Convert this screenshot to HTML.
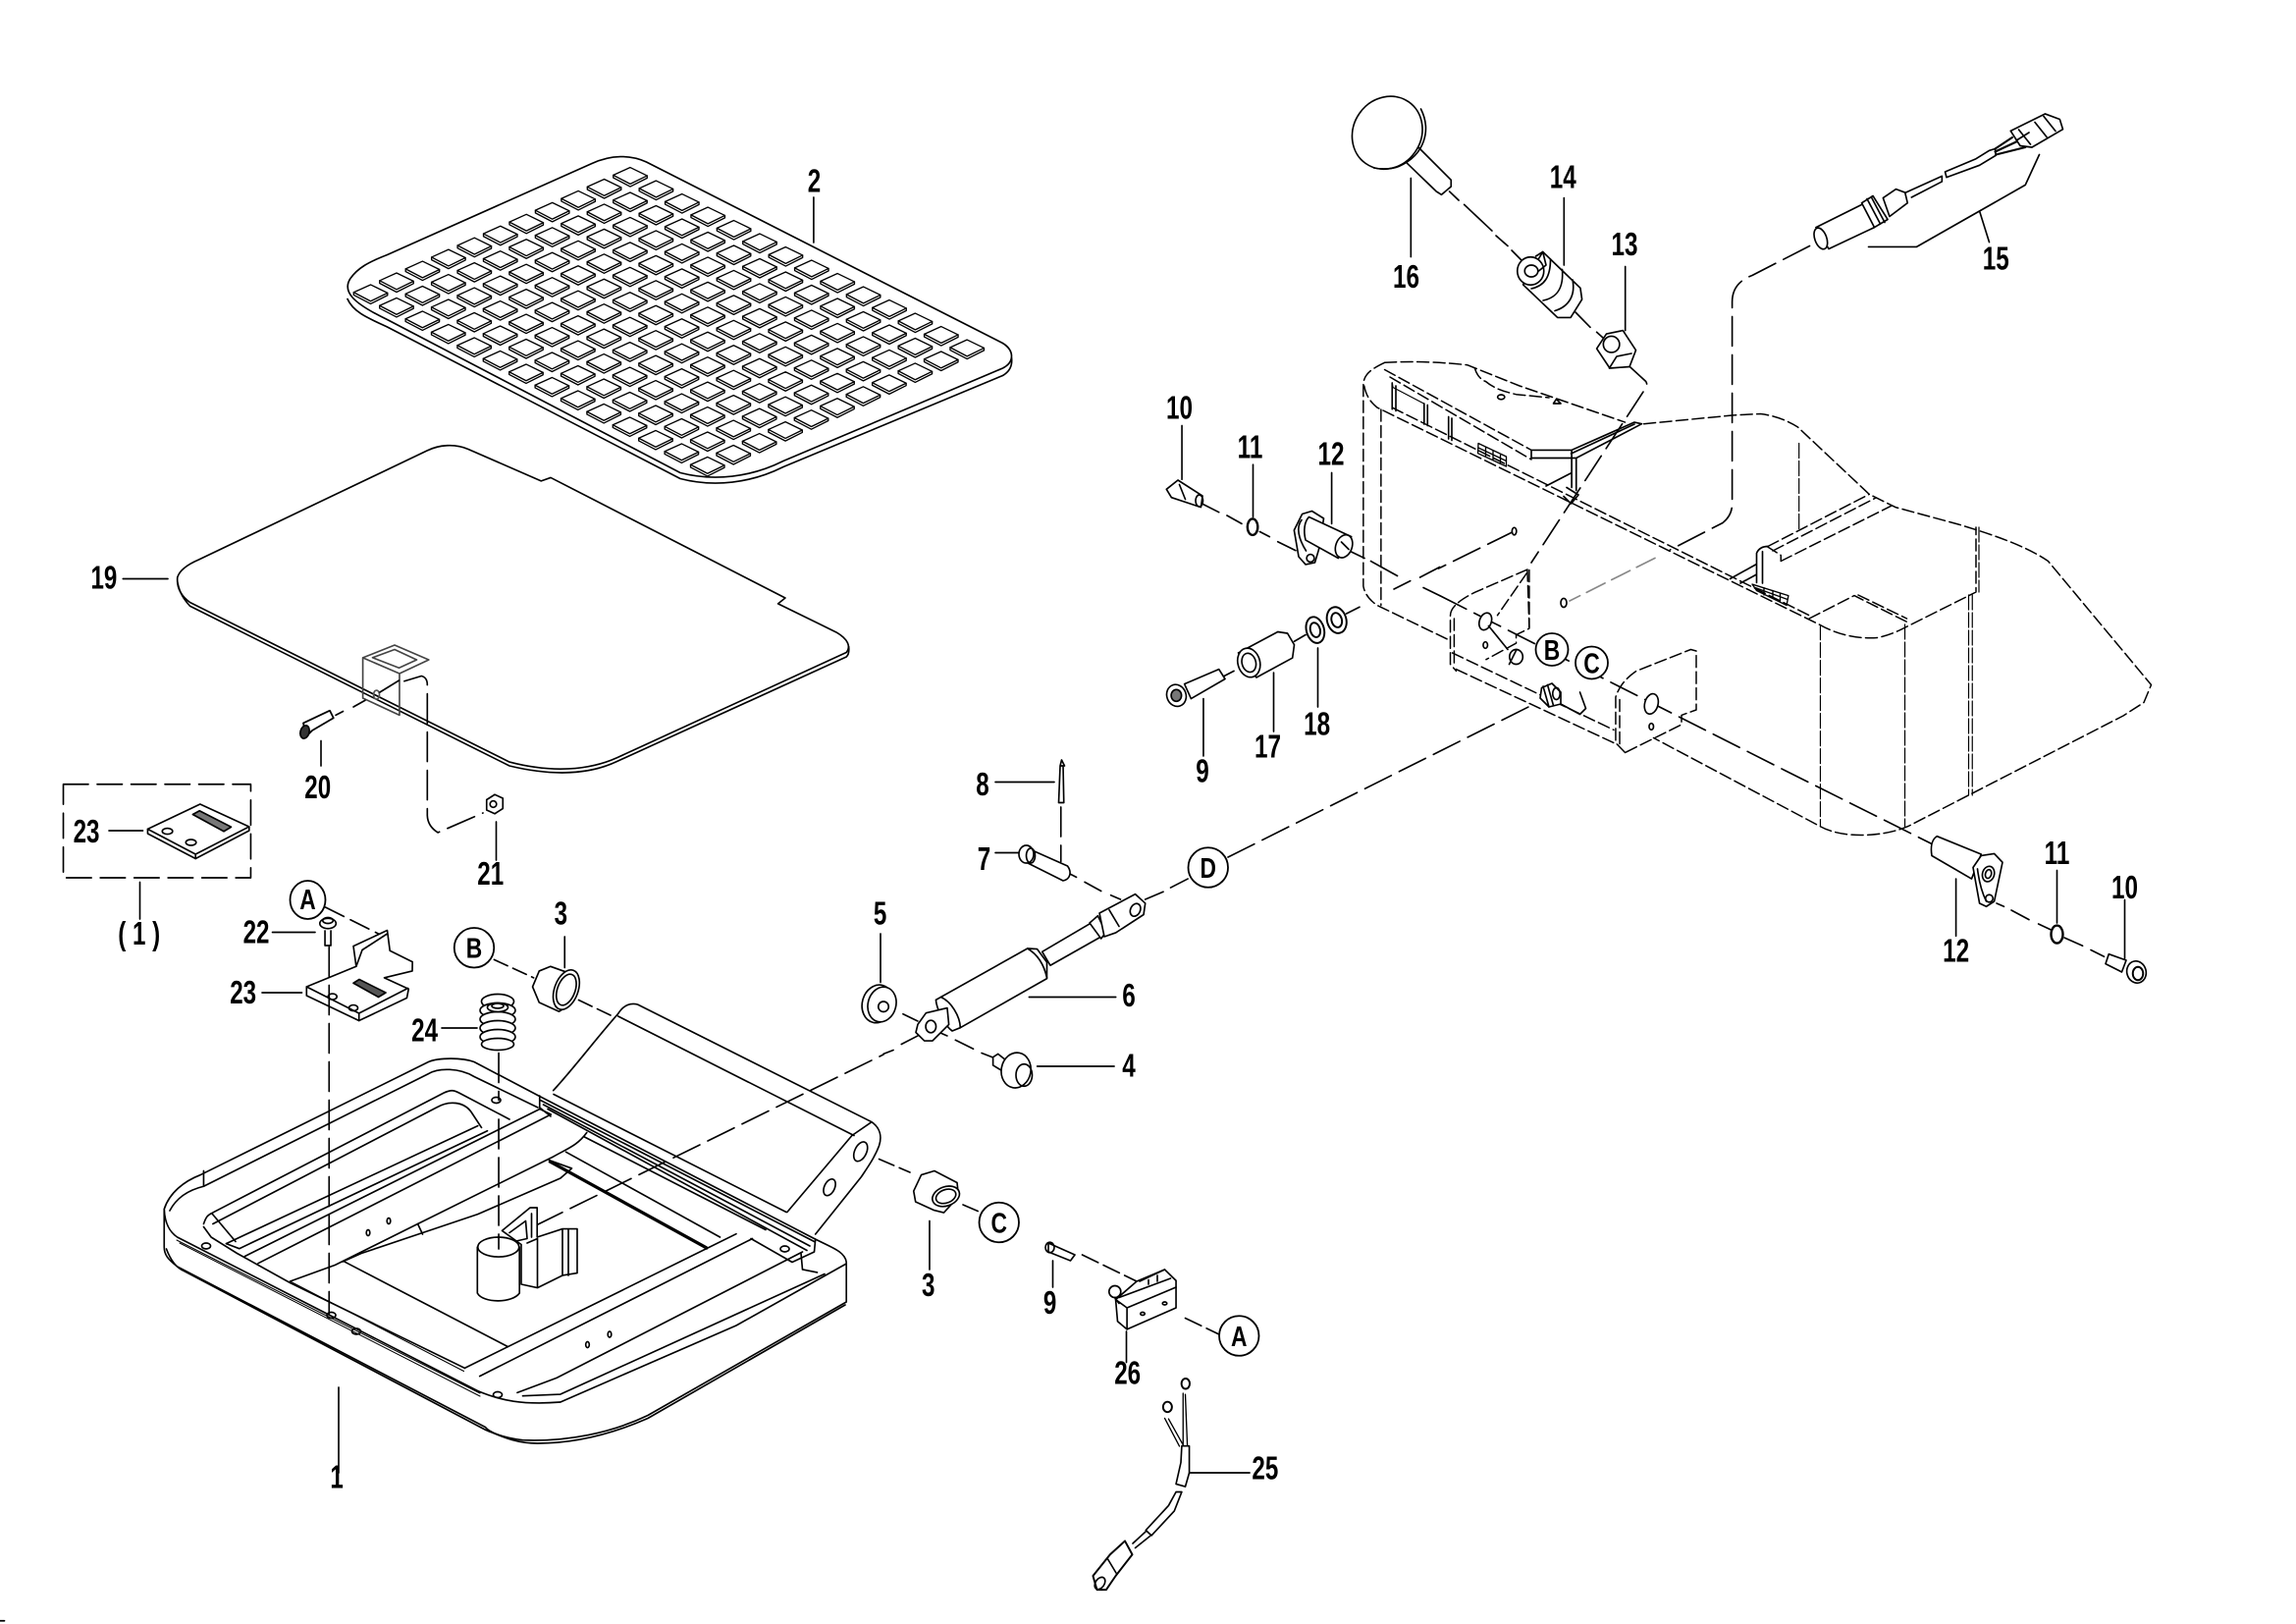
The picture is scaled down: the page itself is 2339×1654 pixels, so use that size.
<!DOCTYPE html>
<html><head><meta charset="utf-8"><style>
html,body{margin:0;padding:0;background:#fff}
svg{display:block}
text{font-family:"Liberation Sans",sans-serif;font-size:22.5px;font-weight:bold;text-anchor:middle;fill:#000;stroke:none}
.c text{font-size:19px}
.d{stroke-dasharray:20 6}
.s{stroke-dasharray:8 3;stroke-width:1}
.f{stroke-dasharray:10 2;stroke-width:.8}
.w{fill:#fff}
</style></head><body>
<svg width="2339" height="1654" viewBox="0 0 1559.33 1102.67" fill="none" stroke="#000" stroke-width="1.1" stroke-linejoin="round" stroke-linecap="round">
<defs>
<g id="t" stroke-width=".9"><path class="w" d="M0-5.6 11.5 0 11.5 1.6 0 7.4-11.5 1.4-11.5-.4Z"/><path d="M-11.5-.4 0 5.6 11.5 0"/></g>
<g id="r"><use href="#t"/><use href="#t" x="17.6" y="9"/><use href="#t" x="35.2" y="18"/><use href="#t" x="52.8" y="27"/><use href="#t" x="70.4" y="36"/><use href="#t" x="88" y="45"/><use href="#t" x="105.6" y="54"/><use href="#t" x="123.2" y="63"/><use href="#t" x="140.8" y="72"/><use href="#t" x="158.4" y="81"/><use href="#t" x="176" y="90"/><use href="#t" x="193.6" y="99"/><use href="#t" x="211.2" y="108"/><use href="#t" x="228.8" y="117"/></g>
</defs>

<!-- mat 2 -->
<path d="M402 111C415 105 428 105 439 110L681 233C689 238 689 246 681 250L532 313C510 324 485 327 462 321L263 217C240 206 232 198 238 189 243 182 250 178 263 173Z"/>
<path d="M236 203C240 212 250 216 263 222L462 325C485 331 510 328 532 317L681 255Q688 251 687 243"/>
<g transform="translate(428 119.3)"><use href="#r"/><use href="#r" x="-17.63" y="7.96"/><use href="#r" x="-35.26" y="15.92"/><use href="#r" x="-52.89" y="23.88"/><use href="#r" x="-70.52" y="31.84"/><use href="#r" x="-88.15" y="39.8"/><use href="#r" x="-105.78" y="47.76"/><use href="#r" x="-123.41" y="55.72"/><use href="#r" x="-141.04" y="63.68"/><use href="#r" x="-158.67" y="71.64"/><use href="#r" x="-176.3" y="79.6"/></g>
<path d="M552.6 134V164.7M83.5 393H114"/>

<!-- sheet 19 -->
<path d="M120.5 392C122 387 128 383 135 380L290 306C298 302 309 301 318 305L367.5 326.6 374 324.3 533.3 406 528.4 409.9 568 429.3C576 434 578 439 574.8 443L419 514.5C400 523 375 525 346 517.4L129 409C122 404 120 398 120.5 392Z"/>
<path d="M120.5 395C122 403 125 407 129 411.5L346 520C375 527 400 526 419 517L574.8 446Q577 444 576.4 439"/>
<path stroke="#444" d="M246.4 446.6 268 438 291.2 448 271.3 457.3V485.6L246.4 474ZM246.4 446.6 271.3 457.3M253 446.5 268 441 283 448 271 453.5Z"/>
<ellipse cx="255.7" cy="471.7" rx="2" ry="3" stroke="#555"/>
<path d="M258 470 271 462"/>
<path class="d" d="M274.6 462.5 286.2 459Q290.2 460 290.2 465V553.7Q290.5 561 297.4 565.3L328 552"/>
<path d="M228 485.6 233 483M240 480 248 475.5"/>
<path class="w" stroke-width="1.2" d="M206 491 224 482.5 226.5 487.5 212 496 208 500Z"/>
<ellipse cx="207" cy="497" rx="3" ry="4.5" fill="#333" transform="rotate(15 207 497)"/>
<path d="M218 503V520"/>
<path class="w" d="M330.5 543 336 539.5 341.5 542 341.5 549 336 552.5 330.5 550Z"/><circle cx="335" cy="546" r="2.2"/>
<path d="M337 558V584"/>

<!-- box (1) -->
<rect x="43" y="532.5" width="127.3" height="63.5" stroke-dasharray="17 6"/>
<path class="w" d="M100.3 562.9 135.9 546 169.2 561.3 169.2 564 132.8 583 100.3 566Z"/><path d="M100.3 562.9 132.8 580 169.2 561.3M132.8 580V583"/>
<ellipse cx="113.7" cy="564.4" rx="3.5" ry="2"/><ellipse cx="129.7" cy="572" rx="3.5" ry="2"/>
<path d="M130.9 553 135.5 550.5 157 561.5 152 564.5Z" fill="#777"/>
<path d="M74 564H97M95 599V624"/>

<!-- bracket 23/22 + A line -->
<path d="M221 616 259 635" stroke-dasharray="14 5"/>
<path class="w" d="M208.2 670 241.9 656.2 240 642.4 263 631.7 264.8 645.5 280.1 653.1 280 659.3 261 663.9 277.5 671.5 276.3 677.6 243.8 693 208.2 676Z"/>
<path d="M208.2 670 243.8 688 277 671M243.8 688V693M241.9 656.2 246 645 263 634"/>
<ellipse cx="225.8" cy="676.7" rx="3" ry="2"/><ellipse cx="240" cy="684.4" rx="3" ry="2"/>
<path d="M240 667.5 244 665 262 674 257 677Z" fill="#555"/>
<path d="M220.7 632 220.7 642H224.7V632"/><ellipse cx="222.7" cy="627" rx="5.5" ry="3.5" class="w"/><ellipse cx="222.7" cy="625" rx="3.5" ry="2"/>
<path d="M185 633H214M178 674H205M300 698H324"/>

<!-- seat frame 1 -->
<path class="w" stroke-width="1.1" d="M111.5 821C115 810 125 802 136 797.8L291 721C298 718 314 718 322 721L366.6 744.4 553.8 841.4C565 847 574 850 574.8 857V884L440 961C415 973 385 979 355 977.8 340 976 332 972 329.6 969L120.4 860C114 855 111.5 852 111.5 846.7Z"/>
<path d="M111.5 821C112 832 116 837 120.4 840L324.5 944.4C340 951 355 954 380.6 952L500 900 574.8 858"/>
<path d="M113 848C116 856 120 861 125 863L330 971C340 975 350 980 365 980 390 980 415 974 440 963L574 886"/>
<path d="M115.3 822C120 813 128 808 138.3 805.5L291.3 728.9C298 725 312 725 322 731L365.3 752"/>
<path d="M138.3 805.5V795"/>
<path d="M138.3 831C140 826 141 825 144.6 823.3L301.5 742C306 740 308 740 311.7 742L346 760M144.6 831 296.4 752C305 747 315 748 320 755L327 765.6M138.3 833 143.4 840 161 851 197 871 315.6 928.9"/>
<path d="M153.6 844.4 324.5 764.4 M162.5 847.8 331 767.8M166.3 853 366.6 753 M175.3 857.8 374.2 756.7 366.6 753M144 824 160 843M153.6 844.4 162.5 847.8"/>
<path d="M197 870 227.6 858.9 283.7 831 375.5 785.5C385 780 392 778 398.5 769"/>
<path d="M232.7 856.7 245.4 851 291.3 835.6 324.5 824.4 380.6 800 388.3 793.3 373 787.8M283.7 831 287 838"/>
<path d="M234 856.7 345 914.4M315.6 928.9 500 837.8 M325.8 934.4 511 841M373 787.8 480 846.7M384.4 782.2 489 840M397 772 520 835M375 790 478 846M373 789 480 848"/>
<path d="M351.3 945.6 378 935.6 545 850M355 947.8 380.6 946.7 560 865M544 851 545 862 555 864"/>
<path d="M366.5 744V752L374 758M367 747 553 843M369 750 550 846M372 753 548 849M553.8 841.4 553 850 538 857 510 841"/>
<path d="M197 870 315 931M120 842 326 946M122 844 326 948" stroke-width=".7"/>
<ellipse cx="140" cy="846" rx="3" ry="2"/><ellipse cx="225" cy="893" rx="3" ry="2"/><ellipse cx="242" cy="904" rx="3" ry="2"/><ellipse cx="338" cy="947" rx="3" ry="2"/>
<ellipse cx="533" cy="848" rx="3" ry="2"/><ellipse cx="337" cy="747" rx="3" ry="2"/>
<ellipse cx="250" cy="837" rx="1.2" ry="2"/><ellipse cx="264" cy="829" rx="1.2" ry="2"/><ellipse cx="399" cy="913" rx="1.2" ry="2"/><ellipse cx="414" cy="906" rx="1.2" ry="2"/>

<!-- hinge panel -->
<path d="M375.8 740.4C390 725 405 705 419.8 688.3Q425 680 433 682L592 761.8C598 766 599 772 597 778 594 786 589 793 585 799L553.8 838M534.6 823 578.6 771 592 761.8"/>
<path d="M419.8 690 580 771M376 743 534 823"/>
<ellipse cx="584.4" cy="781.7" rx="4" ry="7" transform="rotate(25 584 782)"/><ellipse cx="563.4" cy="806" rx="3.5" ry="6" transform="rotate(25 563 806)"/>

<!-- clip & cylinder -->
<path d="M364 832 600 716" class="d"/>
<path class="w" d="M341 835.6 360 820 364.8 820V840L382 834.4H392V864.4L382 866 365 874.4 354 872V845Z"/>
<path d="M346 837 357 829 358 841 349 843M361 824V840M358 844 365 841V874M382 835V866M386 835V866"/>
<path class="w" d="M324.2 846.7V878C328 885 348 885 352.8 878V846.7Z"/><ellipse cx="338.5" cy="846.7" rx="14" ry="6.7" class="w"/>

<!-- dashed to frame -->
<path class="d" d="M223.5 643V893"/>
<path class="d" d="M338.7 715V747"/><path class="d" d="M338.7 760V848"/>

<!-- spring 24 -->
<g class="w"><ellipse cx="338" cy="680" rx="11" ry="5"/><ellipse cx="338" cy="686" rx="12" ry="5"/><ellipse cx="338" cy="692" rx="12" ry="5"/><ellipse cx="338" cy="698" rx="12" ry="5"/><ellipse cx="338" cy="704" rx="12" ry="5"/><ellipse cx="338" cy="709" rx="11" ry="4"/></g>
<ellipse cx="338" cy="684" rx="7" ry="3" fill="#fff"/><ellipse cx="338" cy="683" rx="4" ry="1.6"/>

<!-- B, 3 upper -->
<path d="M335.6 651.6 362.4 663.9M393 679 416 690" stroke-dasharray="10 4"/>
<path class="w" d="M361.7 670 366.2 659.3 373.9 656.2 391 662.3 393 670 387.3 682 379.7 686.8 366.2 680.7Z"/>
<ellipse cx="384.6" cy="672" rx="8" ry="14" class="w" transform="rotate(20 384.6 672)"/><ellipse cx="384.6" cy="672" rx="6" ry="11" transform="rotate(20 384.6 672)"/>
<path d="M383.5 636V657"/>

<!-- gas spring 6 -->
<path d="M600 715.6 606.7 713M612.2 709 623.3 703.3M613.3 688.5 623.3 693.3M633.3 699 643.3 703.3M648.9 706.2 661 712.2M666.7 715 674.4 718M724.4 592.2 731 595.6M736.7 598.9 747.8 605M754.4 607.8 761 610.7M777.8 610.7 790 605.5M795 602.7 806.7 596.7"/>
<path class="d" d="M834 582 1040 479"/>
<path class="d" d="M720.5 548V585"/>
<path class="w" d="M635.6 678.9 697.8 644 704.4 644.4 711 653.3V664.4L652.2 697.8 646.7 700C642 697 636 685 635.6 678.9Z"/>
<path d="M697.8 644Q708 650 711 664M639 677C646 680 652 690 652.2 697.8"/>
<path class="w" d="M707.8 646.2 741 626.7 747.8 636 713.3 655.5Z"/>
<path class="w" d="M740 626.7 745.6 621.8 751 633.3 747.8 637.3Z"/>
<path class="w" d="M746.7 620 771 607.1 777.8 613.3 776.7 621 757.8 633.3 750 636Z"/>
<path d="M753.3 617.8 760 629"/>
<ellipse cx="771" cy="617.8" rx="3.3" ry="4.5" transform="rotate(25 771 618)"/>
<path class="w" d="M623.3 695.6 628.9 687.8 643.3 684.4 644.4 695.6 633.3 706.7H627.8L622 701Z"/>
<ellipse cx="632.2" cy="697" rx="3.5" ry="4.2"/>
<path class="w" d="M674.4 717.8 677.8 715.6 683.3 720 680 726.7 674.4 723.3Z"/>
<ellipse cx="690" cy="726.7" rx="10" ry="12" class="w" transform="rotate(10 690 727)"/><ellipse cx="695.5" cy="730" rx="5.5" ry="7.5"/>
<path d="M676 579H697M676 531H716M698.9 677H757.8M704.4 724H756.7"/>

<!-- 5, 7, 8 -->
<ellipse cx="596" cy="681.6" rx="10.5" ry="13" class="w" transform="rotate(15 596 682)"/><ellipse cx="599" cy="682" rx="9.5" ry="12" class="w" transform="rotate(15 599 682)"/><circle cx="600" cy="683.5" r="3.5"/>
<path d="M598 634V667"/>
<path class="w" d="M698 576 725 588C728 592 727 597 722 598L696 585Z"/>
<ellipse cx="697" cy="580" rx="5" ry="6" class="w"/><ellipse cx="700" cy="581" rx="3" ry="5"/>
<path d="M720 520 719 545H722.5L722 520ZM720 520 721 516 723 520"/>

<!-- C, bushing 3 lower -->
<path d="M597 787 618 796M654 818 668 824" stroke-dasharray="11 4"/>
<path class="w" d="M620.5 808.7 625.7 797.7 634.6 795 650 803 651 812.4 641 823.4 634 821.6 621.8 816Z"/>
<ellipse cx="642.3" cy="812.4" rx="9.5" ry="6.5" class="w" transform="rotate(-20 642 812)"/><ellipse cx="642.3" cy="812.4" rx="7" ry="4.5" transform="rotate(-20 642 812)"/>
<path d="M631.3 829V862"/>

<!-- 9 lower + switch 26 -->
<path d="M712 844 730 852 727 856 712 850Z" class="w"/><ellipse cx="713" cy="847" rx="3" ry="3.5"/>
<path d="M735 852 772 870M805 895 830 907" stroke-dasharray="12 4"/>
<path d="M715 856V874"/>
<path class="w" d="M757.7 882.4 772 870 791 862 798.7 869.5V888L765.4 902.6 759 897.2Z"/>
<path d="M757.7 882.4 765.4 888V902.6M765.4 888 798.7 874M760 881 795 868M774 870 791 862M780 869V872M786 866V870"/>
<circle cx="757.2" cy="877" r="4" class="w"/><path d="M757 881 760 885"/>
<ellipse cx="776" cy="892" rx="1.5" ry="1"/><ellipse cx="791" cy="885" rx="1.5" ry="1"/>
<path d="M765 904V925"/>

<!-- cable 25 -->
<path d="M805 946.8 806.4 981.8M793.6 963.4 803.9 981.8M803.5 946V982M791 963 801 982" stroke-width=".9"/>
<ellipse cx="805.2" cy="939.5" rx="2.8" ry="3.5" stroke-width="1.3"/><ellipse cx="792.9" cy="955.3" rx="3" ry="3.5" stroke-width="1.3"/>
<path class="w" d="M802.6 981.8H807.7V1000L805 1009.4 798.7 1007.6 802 993Z"/>
<path class="w" d="M798.7 1013H802.6L797.5 1026 782 1042.6 778.2 1039 793.6 1022.3Z"/>
<path d="M778 1040 769.3 1048M781 1043 771 1051"/>
<path class="w" stroke-width="1.3" d="M764 1046.3 769 1055.5 757.7 1070 751.3 1079.4H745L742.3 1070 753.9 1055.5Z"/>
<ellipse cx="747" cy="1075" rx="3" ry="4.5" transform="rotate(35 747 1075)"/><path d="M752 1058 758 1068"/>
<path d="M807.7 1000H848.7"/>

<!-- seat body dashed -->
<g class="s">
<path d="M940.4 246.2C928 252 926 256 925.9 262V398C927 404 931 408 935.3 411L983.8 434.4"/>
<path d="M937.9 278V411M940.4 246.2C960 245 980 246 996.5 247.8L1032 262 1103.7 286.7M1116.4 287.8 1176.4 282 1195.5 281C1205 282 1215 286 1221 290L1269.5 335.6 1287.3 344.4 1330 356C1350 362 1375 370 1391 381L1461 465 1456 477 1442 486 1296 561C1280 568 1252 570 1236 561L1123 501"/>
<path d="M940.4 251 1040 305.6M944 256 1040 312M926.5 262C928 270 932 274 935.3 276.7L1236.3 424.4C1248 431 1262 434 1275 433 1285 431 1292 427 1296 425L1342 402V358M945.5 276.7 1228.7 417.8"/>
<path d="M1001.6 250C1003 255 1006 258 1009 259 1015 264 1022 266 1029.7 267.8L1052 270"/>
<path d="M1228.7 420 1259.3 404.4 1295 422.2"/><path d="M1262 404 1295 420"/>
<path d="M1200.6 371 1269.5 335.6M1209.5 381 1284.8 343.3M1200 371 1209.5 377V381"/>
<path d="M1204 374 1274 338"/>
<path d="M1037.3 386.7 1001.6 402.2C990 408 985 413 985 418V451L989 455.6M1037.3 386.7 1038.6 426.7 1029.7 431V436.7L1009.3 447.8M987.6 420V450"/>
<path d="M986.3 443.3 1096 495.6M988.9 454.4 1098.6 505.6"/>
<path d="M1103.7 511 1097.3 504.4V473.3C1100 465 1105 460 1111.3 455.6L1148.3 441 1152 442V482L1142 485.6V492L1103.7 511M1100 505V474"/>
</g>
<path d="M1040 305.6H1067.4L1110 286.7 1115 287.8 1070.5 311H1040V305.6M1067.4 305.6V331M1070.5 311V333M1064 331 1072 336 1067 342 1062 337M1050 330 1067.4 321M1067 308 1110 288M1193 395.6V375.6Q1195 371 1200.6 371M1197 374.5V396M1175 393 1193 383M1182 396 1193 390"/>
<path d="M1004 301 1023 310V316.7L1003.7 307.8ZM1004 304 1023 313M1009 304V310M1014 306V312M1019 309V315" stroke-width=".9"/>
<path d="M1190 396.7 1214.6 404.4 1213.4 411 1193 401ZM1192 399 1214 407M1198 399V404M1204 401V406M1209 403V408" stroke-width=".9"/>
<path d="M945.5 260V277.8M948 262V279M967.2 274V288M969.5 275V289M983.8 283V298M986 284V299"/>
<path d="M967 274 946 263 945.5 260" stroke-width=".8"/>
<ellipse cx="1019.5" cy="269.6" rx="2.4" ry="1.6"/><path d="M1057 271 1060 274 1055 274Z"/>
<path class="f" d="M1236.3 424.4V561M1293.7 424V561M1337 404V540M1339.5 404V540M1221.8 301V359M1344 358V402"/>

<!-- center lines -->
<path d="M816.7 342.2 827.8 347.8M833.3 350 843.3 355.6M855.6 361 862.2 364.4M867.8 367.8 880 373.8M916 373.8 926.7 379M931 381 949 391M966.7 399 977.8 404.4"/>
<path class="d" d="M978 404.5 1212 523 1312 573"/>
<path d="M831.6 458.9 838 455.6M879 435.5 886.7 431M914.4 416.7 923.3 412.2M946.7 400 957.8 394.4M964.4 392 977.8 385"/>
<path class="d" d="M1028.4 360.7 977 386"/>
<path class="d" d="M1104.4 246.7 1117.8 259Q1119 261 1118 263L1040 382"/>
<path d="M1037 389 1017 417.8 M1038.6 387V426" class="s"/>
<path class="d" d="M1229 167 1190 187Q1176.4 192 1176.4 205V342Q1176.4 350 1170 355L1134.3 373.3"/>
<path stroke="#888" stroke-dasharray="14 5" d="M1124 378.9 1066 408"/>
<path d="M984.4 130 990.7 136M994.4 138.9 1013.3 156.7M1016 160 1024 167M1026.7 170 1034.4 177.8M1070 212 1080 222.2M1084.4 225.5 1095.5 235.5"/>
<path d="M1356 613.3 1361 615.5M1366 618 1378 624.4M1384.4 627.3 1393.3 631.5M1402 636.7 1414.4 642.2M1420 645 1429 649.5"/>

<!-- holes in body -->
<g class="w">
<ellipse cx="1008.8" cy="422" rx="4" ry="6" transform="rotate(20 1009 422)"/><ellipse cx="1029.7" cy="446" rx="4.5" ry="5"/><ellipse cx="1121.5" cy="477.8" rx="4.5" ry="7" transform="rotate(15 1121 478)"/>
<ellipse cx="1008.8" cy="438" rx="1.5" ry="2.2"/><ellipse cx="1121.5" cy="493.3" rx="1.5" ry="2.2"/><ellipse cx="1028.4" cy="360.7" rx="1.5" ry="2.5"/><ellipse cx="1062" cy="409.3" rx="2" ry="3"/>
</g>
<path d="M1011 425 1024 441M1030 441 1025 451"/>
<path class="w" d="M1047 467 1054 464 1060 470 1060 478 1052 480 1046 474Z"/>
<path d="M1048 466 1052 480M1051 465 1055 479" /><ellipse cx="1057" cy="471" rx="2.5" ry="4"/>
<path d="M1060 478 1073 485 1077 481 1073 470"/>

<!-- knob 16 -->
<path class="w" d="M963.3 100 985.5 122.2V126.7L979 132.2 975.5 130 954 109.3Z"/>
<ellipse cx="942.2" cy="90" rx="23" ry="25.5" class="w" transform="rotate(35 942 90)"/>
<path d="M965 74C972 88 968 105 950 113 945 115 938 115 933 114"/>
<path d="M958.2 121V174.4"/>

<!-- spring 14 -->
<path class="w" d="M1047.8 171 1073.3 195.6 1074.4 203.3 1066.7 215.6H1057.8L1034.4 193.3Z"/>
<path d="M1053 176C1053 188 1049 194 1040 196M1061 183C1062 195 1058 202 1048 204M1068 190C1070 200 1066 208 1056 211"/>
<ellipse cx="1039.5" cy="184" rx="9" ry="9.5" class="w"/><ellipse cx="1040" cy="184" rx="4.5" ry="4"/><path d="M1043 174 1047.8 171 1050 180 1045 184"/>
<path d="M1062.2 134.4V180"/>

<!-- nut 13 -->
<path class="w" d="M1084.4 236.7 1091 226.7 1102.2 224.4 1111 237.8 1106.7 249 1093.3 250Z"/>
<path d="M1093 250 1098 242 1108 240"/><circle cx="1094.4" cy="233.8" r="5.5"/>
<path d="M1103.8 181V224.4"/>

<!-- sensor 15 -->
<path class="w" d="M1233.3 154.4 1266.6 137.8 1273 154.4 1242 169Z"/><ellipse cx="1236.6" cy="161.8" rx="4" ry="7.5" class="w" transform="rotate(-20 1237 162)"/>
<path class="w" d="M1264.4 137.8 1272 133 1282 149 1273 154.4Z"/><path d="M1268 135 1277 152M1271 134 1280 151"/>
<path class="w" d="M1278.9 134.4 1287.7 128.4 1293.8 130.7 1295.5 137.8 1283.3 147Z"/>
<path d="M1294.4 130.7 1318.9 119.6 1318.9 123.3 1298.2 134M1321 116.7 1342 107.8 1351 102.2 1355 101M1322 120.4 1344.4 112.2 1355.5 105.5 1355 101M1321 116.7 1322 120.4"/>
<path d="M1355 101 1366.6 93.3M1355 103 1370 96M1355.5 105 1375.5 100" stroke-width="1.4"/>
<path class="w" d="M1365.5 88.9 1388.9 77.3 1398.9 81 1401 87.8 1380 100 1372 99Z"/>
<path d="M1371 88 1379 98M1382 83 1390 93M1388 79 1396 89M1370 95 1378 90"/>
<path d="M1269 167.6H1301.7L1375.5 125.6 1385 105M1344.4 143.3 1351 164.4"/>

<!-- left hardware -->
<path class="w" d="M792.2 332.2 800 326 816.7 336.7 815.6 344.4 795.6 337.8Z"/><path d="M801 329 805 339"/><ellipse cx="814.5" cy="340" rx="2.5" ry="4"/>
<path d="M802.7 289V325.5"/>
<ellipse cx="850.7" cy="357.8" rx="3.5" ry="5.5" stroke-width="1.6"/><path d="M851 315.5V351"/>
<path class="w" d="M878.9 360 884.4 349 891 347 899 352 895.6 373.3 893 382 886.7 383.3 882 378Z"/>
<path d="M884 353C880 358 882 366 887 374"/>
<path class="w" d="M889 351 917.8 364.4 908.9 379 886.7 366.7C885 360 886 354 889 351Z"/>
<ellipse cx="912.7" cy="371" rx="5.5" ry="8" class="w" transform="rotate(20 913 371)"/><path d="M911 368 916 373"/>
<circle cx="890" cy="379" r="2.6"/>
<path d="M904.4 321V355.6"/>

<path class="w" d="M804.4 464.4 827.8 454.4 832 461 808.9 474.4Z"/><ellipse cx="798.9" cy="472.2" rx="6.5" ry="7.5" class="w" transform="rotate(-20 799 472)"/><ellipse cx="798.9" cy="472.2" rx="3.5" ry="4" fill="#777"/>
<path d="M817.3 474.4V513.3"/>
<path class="w" d="M841 443.3 867.8 429 874.4 430 879 437.8 877.8 446.7 853.3 460Z"/><ellipse cx="848.2" cy="450" rx="7.5" ry="10" class="w" transform="rotate(-15 848 450)"/><ellipse cx="848.2" cy="450" rx="4.7" ry="6.5" transform="rotate(-15 848 450)"/>
<path d="M865 456.7V496.7"/>
<ellipse cx="893.3" cy="427.8" rx="6" ry="9" class="w" transform="rotate(-15 893 428)" stroke-width="1.3"/><ellipse cx="893.3" cy="427.8" rx="3.3" ry="5" transform="rotate(-15 893 428)" stroke-width="1.3"/>
<ellipse cx="907.8" cy="421" rx="6.5" ry="9" class="w" transform="rotate(-15 908 421)" stroke-width="1.3"/><ellipse cx="907.8" cy="421" rx="3.5" ry="5" transform="rotate(-15 908 421)" stroke-width="1.3"/>
<path d="M895 440V480"/>

<!-- right hardware -->
<path class="w" d="M1315.5 567.8 1345.5 580 1339 596.7 1312 581C1311 575 1312 570 1315.5 567.8Z"/>
<path class="w" d="M1340 589 1345.5 581 1354.4 579.6 1360 585.5 1354.4 612 1349 615.5 1344.4 613.3Z"/>
<path d="M1343 590C1344 598 1346 606 1349 612"/>
<ellipse cx="1350.5" cy="593.3" rx="4" ry="5.3" transform="rotate(15 1350 593)"/><ellipse cx="1350.5" cy="593.3" rx="2" ry="3" transform="rotate(15 1350 593)"/><circle cx="1351" cy="610" r="2.5"/>
<path d="M1328.4 596.7V635.5"/>
<ellipse cx="1397" cy="634.4" rx="4" ry="6" stroke-width="1.6"/><path d="M1397 591V626.7"/>
<path class="w" d="M1432.2 647.8 1444 652 1441 660 1430 654.4Z"/>
<ellipse cx="1451" cy="660" rx="6.5" ry="7.5" class="w" transform="rotate(-15 1451 660)"/><ellipse cx="1452" cy="661" rx="3.5" ry="4.5" stroke-width="1.3"/>
<path d="M1443 611V651"/>

<path d="M230 942V1000"/>
<path d="M0 1100.5H3"/>

<!-- circled letters -->
<g class="w" stroke-width="1.2">
<ellipse cx="209" cy="611" rx="12" ry="13"/><ellipse cx="322" cy="643.5" rx="13.5" ry="13.5"/><ellipse cx="820.5" cy="589" rx="13.5" ry="13.5"/><ellipse cx="678.5" cy="830" rx="13.5" ry="13.5"/><ellipse cx="841.5" cy="907" rx="13.5" ry="13.5"/><ellipse cx="1054" cy="441" rx="11" ry="11"/><ellipse cx="1081" cy="450" rx="11" ry="11"/>
</g>
<g class="c">
<text transform="translate(209 617.5) scale(.8 1)">A</text><text transform="translate(322 650.5) scale(.8 1)">B</text><text transform="translate(820.5 596) scale(.8 1)">D</text><text transform="translate(678.5 837) scale(.8 1)">C</text><text transform="translate(841.5 914) scale(.8 1)">A</text><text transform="translate(1054 448) scale(.8 1)">B</text><text transform="translate(1081 457) scale(.8 1)">C</text>
</g>

<!-- labels -->
<text transform="translate(801 284.5) scale(.72 1)">10</text>
<text transform="translate(849 311) scale(.72 1)">11</text>
<text transform="translate(904 315.6) scale(.72 1)">12</text>
<text transform="translate(816.7 531) scale(.72 1)">9</text>
<text transform="translate(861 514.4) scale(.72 1)">17</text>
<text transform="translate(894.4 499) scale(.72 1)">18</text>
<text transform="translate(955 195.5) scale(.72 1)">16</text>
<text transform="translate(1061.5 127.8) scale(.72 1)">14</text>
<text transform="translate(1103.3 173.3) scale(.72 1)">13</text>
<text transform="translate(1355.5 183) scale(.72 1)">15</text>
<text transform="translate(1328.4 653) scale(.72 1)">12</text>
<text transform="translate(1397 586.7) scale(.72 1)">11</text>
<text transform="translate(1443 610) scale(.72 1)">10</text>
<text transform="translate(766.7 683.3) scale(.72 1)">6</text>
<text transform="translate(766.7 731) scale(.72 1)">4</text>
<g transform="scale(.9945)">
<text transform="translate(556 131) scale(.72 1)">2</text>
<text transform="translate(71 402) scale(.72 1)">19</text>
<text transform="translate(59 575) scale(.72 1)">23</text>
<text transform="translate(95 645) scale(.72 1)">( 1 )</text>
<text transform="translate(175 644) scale(.72 1)">22</text>
<text transform="translate(166 685) scale(.72 1)">23</text>
<text transform="translate(290 711) scale(.72 1)">24</text>
<text transform="translate(217 545) scale(.72 1)">20</text>
<text transform="translate(335 604) scale(.72 1)">21</text>
<text transform="translate(383 631) scale(.72 1)">3</text>
<text transform="translate(601 631) scale(.72 1)">5</text>
<text transform="translate(671 543) scale(.72 1)">8</text>
<text transform="translate(672 594) scale(.72 1)">7</text>
<text transform="translate(634 885) scale(.72 1)">3</text>
<text transform="translate(717 897) scale(.72 1)">9</text>
<text transform="translate(770 945) scale(.72 1)">26</text>
<text transform="translate(864 1010) scale(.72 1)">25</text>
<text transform="translate(230 1016) scale(.72 1)">1</text>
</g>
</svg>
</body></html>
